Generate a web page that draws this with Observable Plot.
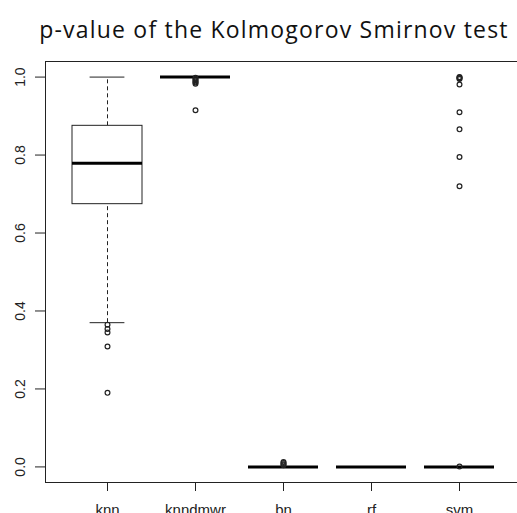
<!DOCTYPE html>
<html>
<head>
<meta charset="utf-8">
<script src="https://cdn.jsdelivr.net/npm/d3@7"></script>
<script src="https://cdn.jsdelivr.net/npm/@observablehq/plot@0.6"></script>
<style>
  html, body { margin: 0; padding: 0; background: white; overflow: hidden; }
  #title {
    box-sizing: border-box; width: 517px; height: 50px;
    padding-top: 18px; padding-left: 31px;
    font-family: "Open Sans", sans-serif; font-size: 23px; line-height: 1;
    letter-spacing: 1.2px;
    text-align: center; color: #111; white-space: nowrap;
  }
  #chart svg { display: block; }
</style>
</head>
<body>
<div id="title">p-value of the Kolmogorov Smirnov test</div>
<div id="chart"></div>
<script>
// Box statistics per category
const categories    = ["knn", "knndmwr", "bn", "rf", "svm"];
const lowerWhisker  = [0.370, 1.000, 0.000, 0.000, 0.000];
const lowerQuartile = [0.674, 1.000, 0.000, 0.000, 0.000];
const medians       = [0.779, 1.000, 0.000, 0.000, 0.000];
const upperQuartile = [0.875, 1.000, 0.000, 0.000, 0.000];
const upperWhisker  = [1.000, 1.000, 0.000, 0.000, 0.000];

// Outliers
const outlierGroup = [
  "knn", "knn", "knn", "knn", "knn",
  "knndmwr", "knndmwr", "knndmwr", "knndmwr", "knndmwr", "knndmwr", "knndmwr",
  "bn", "bn", "bn", "bn",
  "svm", "svm", "svm", "svm", "svm", "svm", "svm", "svm", "svm", "svm"
];
const outlierValue = [
  0.365, 0.354, 0.345, 0.309, 0.190,
  0.998, 0.995, 0.992, 0.989, 0.986, 0.983, 0.915,
  0.004, 0.007, 0.010, 0.0125,
  1.000, 0.999, 0.997, 0.995, 0.981, 0.910, 0.866, 0.795, 0.720, 0.001
];

const yTicks = [0, 0.2, 0.4, 0.6, 0.8, 1.0];

const stats = categories.map((c, i) => ({
  cat: c, lo: lowerWhisker[i], q1: lowerQuartile[i], med: medians[i],
  q3: upperQuartile[i], hi: upperWhisker[i]
}));
const outliers = outlierGroup.map((g, i) => ({cat: g, v: outlierValue[i]}));

const ink = "#222";
const capInset = 17.6;

const chart = Plot.plot({
  width: 517,
  height: 463,
  marginLeft: 45,
  marginRight: -4,
  marginTop: 11,
  marginBottom: 31,
  style: {background: "white", color: ink},
  x: {type: "band", domain: categories, paddingInner: 0.2, paddingOuter: 0.3},
  y: {domain: [-0.04, 1.04]},
  marks: [
    Plot.ruleX(stats, {x: "cat", y1: "lo", y2: "q1", stroke: ink, strokeDasharray: "4,3"}),
    Plot.ruleX(stats, {x: "cat", y1: "q3", y2: "hi", stroke: ink, strokeDasharray: "4,3"}),
    Plot.tickY(stats, {x: "cat", y: "lo", stroke: ink, insetLeft: capInset, insetRight: capInset}),
    Plot.tickY(stats, {x: "cat", y: "hi", stroke: ink, insetLeft: capInset, insetRight: capInset}),
    Plot.barY(stats, {x: "cat", y1: "q1", y2: "q3", fill: "white", stroke: ink, strokeWidth: 1}),
    Plot.tickY(stats, {x: "cat", y: "med", stroke: "#000", strokeWidth: 3}),
    Plot.dot(outliers, {x: "cat", y: "v", r: 2.4, stroke: ink, strokeWidth: 1.2, fill: "none"}),
    Plot.frame({stroke: ink}),
    Plot.axisY({
      ticks: yTicks, tickSize: 10, tickRotate: -90, tickFormat: d3.format(".1f"),
      fontSize: 14, fontFamily: "Liberation Sans, Arial, sans-serif", label: null, tickPadding: 11
    }),
    Plot.axisX({
      tickSize: 9, tickPadding: 13, fontSize: 15,
      fontFamily: "Liberation Sans, Arial, sans-serif", label: null
    })
  ]
});
document.getElementById("chart").appendChild(chart);
</script>
</body>
</html>
